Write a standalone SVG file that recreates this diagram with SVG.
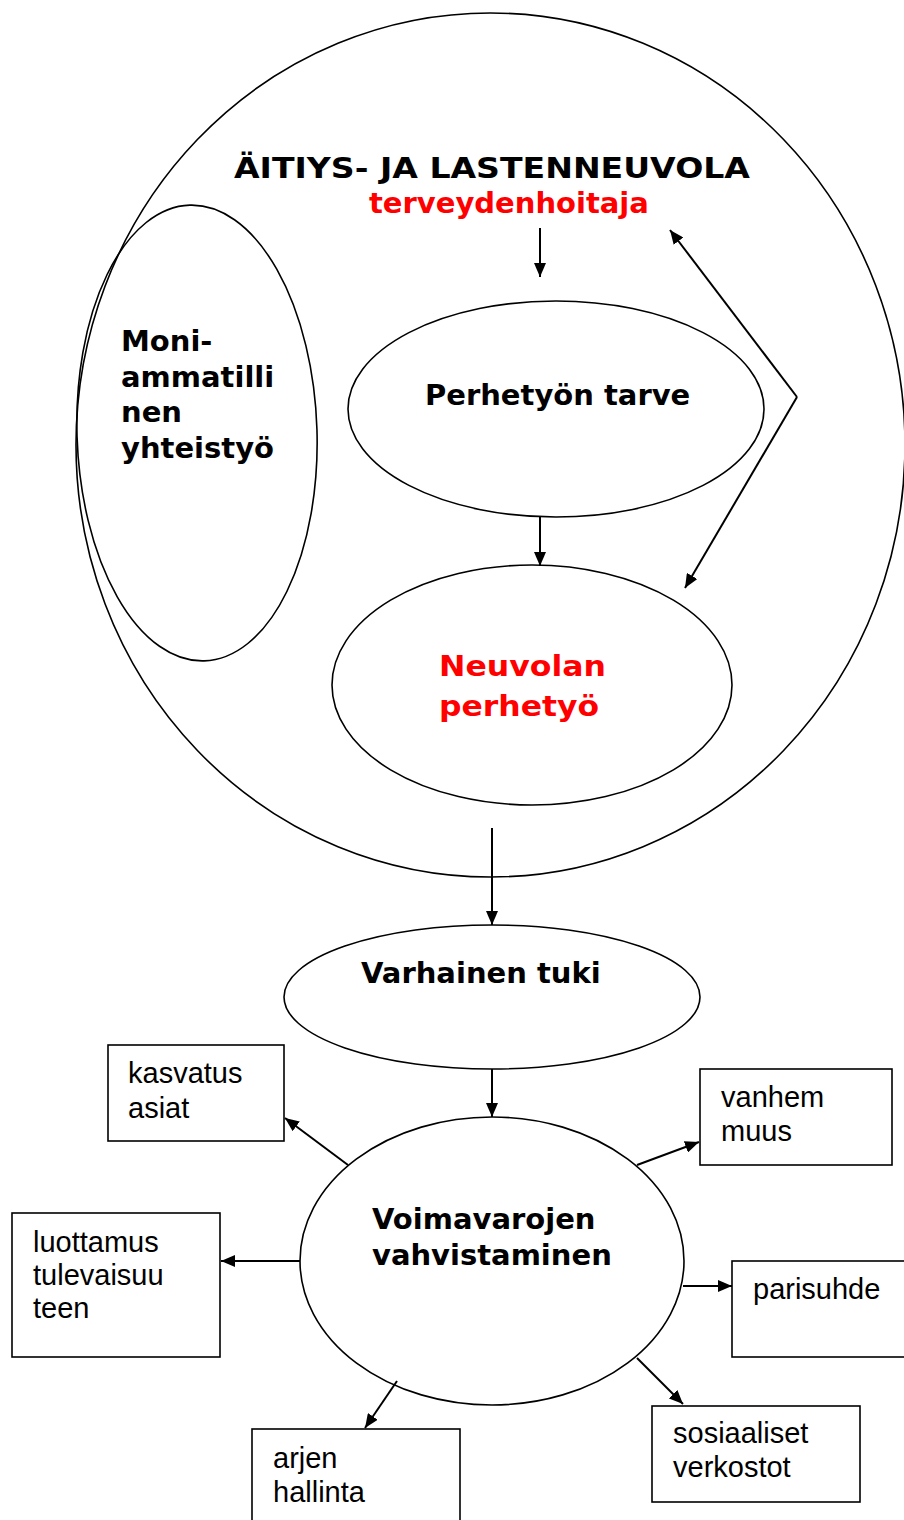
<svg xmlns="http://www.w3.org/2000/svg" width="904" height="1520" viewBox="0 0 904 1520">
<style>
.sh{fill:none;stroke:#000;stroke-width:1.6}
.bx{fill:#fff;stroke:#000;stroke-width:1.6}
.ar{fill:none;stroke:#000;stroke-width:2;marker-end:url(#ah)}
.b{font-family:"DejaVu Sans",Verdana,sans-serif;font-weight:bold;font-size:29px;fill:#000}
.red{fill:#ff0000}
.n{font-family:"Liberation Sans",Arial,sans-serif;font-size:29px;fill:#000}
</style>
<defs>
<marker id="ah" viewBox="0 0 14 12" refX="14" refY="6" markerWidth="14" markerHeight="12" markerUnits="userSpaceOnUse" orient="auto">
<path d="M0,0 L14,6 L0,12 z" fill="#000"/>
</marker>
</defs>
<rect width="904" height="1520" fill="#fff"/>

<g id="neuvola">
<ellipse class="sh" cx="490.5" cy="445" rx="414.5" ry="432"/>
<text class="b" x="234" y="178" font-size="33" textLength="516" lengthAdjust="spacingAndGlyphs">ÄITIYS- JA LASTENNEUVOLA</text>
<text class="b red" x="369" y="213">terveydenhoitaja</text>
</g>

<g id="moniammatillinen">
<ellipse class="sh" cx="197" cy="433" rx="120" ry="228" transform="rotate(-1.8 197 433)"/>
<text class="b" x="121"><tspan x="121" y="351">Moni-</tspan><tspan x="121" y="387">ammatilli</tspan><tspan x="121" y="422">nen</tspan><tspan x="121" y="458">yhteistyö</tspan></text>
</g>

<g id="perhetyon-tarve">
<ellipse class="sh" cx="556" cy="409" rx="208" ry="108"/>
<text class="b" x="425" y="405">Perhetyön tarve</text>
</g>

<g id="neuvolan-perhetyo">
<ellipse class="sh" cx="532" cy="685" rx="200" ry="120"/>
<text class="b red" font-size="33" x="439" y="676" textLength="167" lengthAdjust="spacingAndGlyphs">Neuvolan</text>
<text class="b red" font-size="33" x="439" y="716" textLength="160" lengthAdjust="spacingAndGlyphs">perhetyö</text>
</g>

<g id="varhainen-tuki">
<ellipse class="sh" cx="492" cy="997" rx="208" ry="72"/>
<text class="b" x="361" y="983">Varhainen tuki</text>
</g>

<g id="voimavarojen-vahvistaminen">
<ellipse class="sh" cx="492" cy="1261" rx="192" ry="144"/>
<text class="b"><tspan x="372" y="1229">Voimavarojen</tspan><tspan x="372" y="1265">vahvistaminen</tspan></text>
</g>

<g id="kasvatus">
<rect class="bx" x="108" y="1045" width="176" height="96"/>
<text class="n"><tspan x="128" y="1083">kasvatus</tspan><tspan x="128" y="1118">asiat</tspan></text>
</g>

<g id="vanhemmuus">
<rect class="bx" x="700" y="1069" width="192" height="96"/>
<text class="n"><tspan x="721" y="1107">vanhem</tspan><tspan x="721" y="1141">muus</tspan></text>
</g>

<g id="luottamus">
<rect class="bx" x="12" y="1213" width="208" height="144"/>
<text class="n"><tspan x="33" y="1252">luottamus</tspan><tspan x="33" y="1285">tulevaisuu</tspan><tspan x="33" y="1318">teen</tspan></text>
</g>

<g id="parisuhde">
<rect class="bx" x="732" y="1261" width="190" height="96"/>
<text class="n" x="753" y="1299">parisuhde</text>
</g>

<g id="sosiaaliset">
<rect class="bx" x="652" y="1406" width="208" height="96"/>
<text class="n"><tspan x="673" y="1443">sosiaaliset</tspan><tspan x="673" y="1477">verkostot</tspan></text>
</g>

<g id="arjen">
<rect class="bx" x="252" y="1429" width="208" height="110"/>
<text class="n"><tspan x="273" y="1468">arjen</tspan><tspan x="273" y="1502">hallinta</tspan></text>
</g>

<g id="connectors">
<line class="ar" x1="540" y1="228" x2="540" y2="277"/>
<line class="ar" x1="540" y1="517" x2="540" y2="566"/>
<line class="ar" x1="797" y1="397" x2="670" y2="230"/>
<line class="ar" x1="797" y1="397" x2="685" y2="588"/>
<line class="ar" x1="492" y1="828" x2="492" y2="925"/>
<line class="ar" x1="492" y1="1069" x2="492" y2="1117"/>
<line class="ar" x1="348" y1="1165" x2="285" y2="1118"/>
<line class="ar" x1="637" y1="1165" x2="699" y2="1142"/>
<line class="ar" x1="300" y1="1261" x2="221" y2="1261"/>
<line class="ar" x1="683" y1="1286" x2="732" y2="1286"/>
<line class="ar" x1="637" y1="1358" x2="683" y2="1404"/>
<line class="ar" x1="397" y1="1381" x2="365" y2="1428"/>
</g>
</svg>
